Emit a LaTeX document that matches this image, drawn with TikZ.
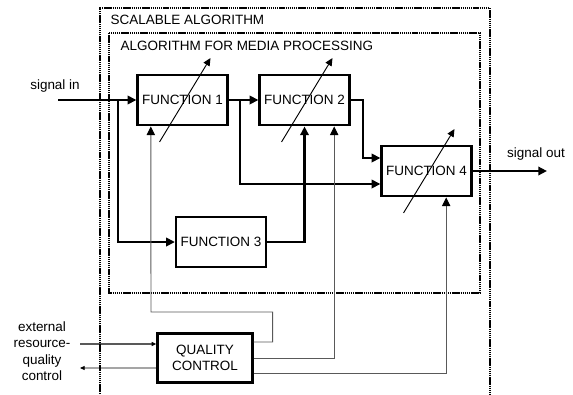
\documentclass[tikz,border=0pt]{standalone}
\usepackage{fontspec}
\setmainfont{Liberation Sans}
\usepackage{tikz}
\usetikzlibrary{positioning, arrows.meta}

\definecolor{ctrlgray}{gray}{0.35}

\begin{document}
\begin{tikzpicture}[
    x=0.03cm, y=-0.03cm, % one unit is one pixel of the sketch
    font=\fontsize{11.5}{14}\selectfont,
    fnode/.style={draw, rectangle, line width=1.9pt, minimum width=2.7cm, minimum height=1.52cm, anchor=center, inner sep=2pt},
    thickarrow/.style={-{Triangle[length=2.6mm, width=2.5mm]}, line width=1.9pt},
    ctrlarrow/.style={-{Triangle[length=2.6mm, width=2.5mm, color=black]}, line width=0.8pt, ctrlgray},
    extarrow/.style={-{Triangle[length=1.4mm, width=1.2mm]}, line width=1.1pt},
    tune/.style={-{Triangle[length=2.3mm, width=2.1mm]}, line width=0.8pt},
    frame/.style={dash pattern=on 1.2pt off 0.6pt, line width=0.9pt},
    labelstyle/.style={inner sep=0pt}
]
\useasboundingbox (0,0) rectangle (573,394);

% frames
\draw[frame] (100,394) |- (490,8) -- (490,394);
\draw[frame] (109,33) rectangle (480,293);
\node[labelstyle, anchor=base west] (scal) at (110.5,25) {SCALABLE ALGORITHM};
\node[labelstyle, anchor=base west] (media) at (120.5,50.5) {ALGORITHM FOR MEDIA PROCESSING};

% function blocks
\node[fnode] (f1) at (182.5,100) {FUNCTION 1};
\node[fnode] (f2) at (304.5,100) {FUNCTION 2};
\node[fnode] (f3) at (221,242) {FUNCTION 3};
\node[fnode] (f4) at (426.5,171) {FUNCTION 4};
\node[fnode, minimum width=2.85cm, minimum height=1.47cm, align=center] (qc) at (205,358) {QUALITY\\CONTROL};

% signal path
\node[labelstyle, anchor=base] (sin) at (55,89) {signal in};
\node[labelstyle, anchor=base] (sout) at (536,157) {signal out};
\coordinate (in) at (58,100);
\coordinate (out) at (547,171);
\coordinate (split1) at (118,100);
\coordinate (split2) at (240,100);

\draw[thickarrow] (in) -- (f1.west);
\draw[thickarrow] (split1) |- (f3.west);
\draw[thickarrow] (f1.east) -- (f2.west);
\draw[thickarrow] (split2) |- ([yshift=-0.39cm]f4.west);
\draw[thickarrow] (f2.east) -- ++(12,0) |- ([yshift=0.39cm]f4.west);
\draw[thickarrow] (f3.east) -| (f2.south);
\draw[thickarrow] (f4.east) -- (out);

% scalability arrows
\foreach \f in {f1,f2,f4}
    \draw[tune] ([shift={(-23,42)}]\f.center) -- ([shift={(28,-42)}]\f.center);

% quality control
\draw[ctrlarrow] ([yshift=0.48cm]qc.east) -- ++(19,0) |- (151,312) -- ([xshift=-0.95cm]f1.south);
\draw[ctrlarrow] (qc.east) -| ([xshift=0.89cm]f2.south);
\draw[ctrlarrow] ([yshift=-0.45cm]qc.east) -| ([xshift=0.59cm]f4.south);

% external resource-quality control
\node[labelstyle, align=center] (ext) at (42,351) {external\\resource-\\quality\\control};
\coordinate (extin) at (80,344);
\coordinate (extout) at (80,368);
\draw[extarrow] (extin) -- ([yshift=0.42cm]qc.west);
\draw[extarrow, line width=0.7pt] ([yshift=-0.3cm]qc.west) -- (extout);

\end{tikzpicture}
\end{document}
